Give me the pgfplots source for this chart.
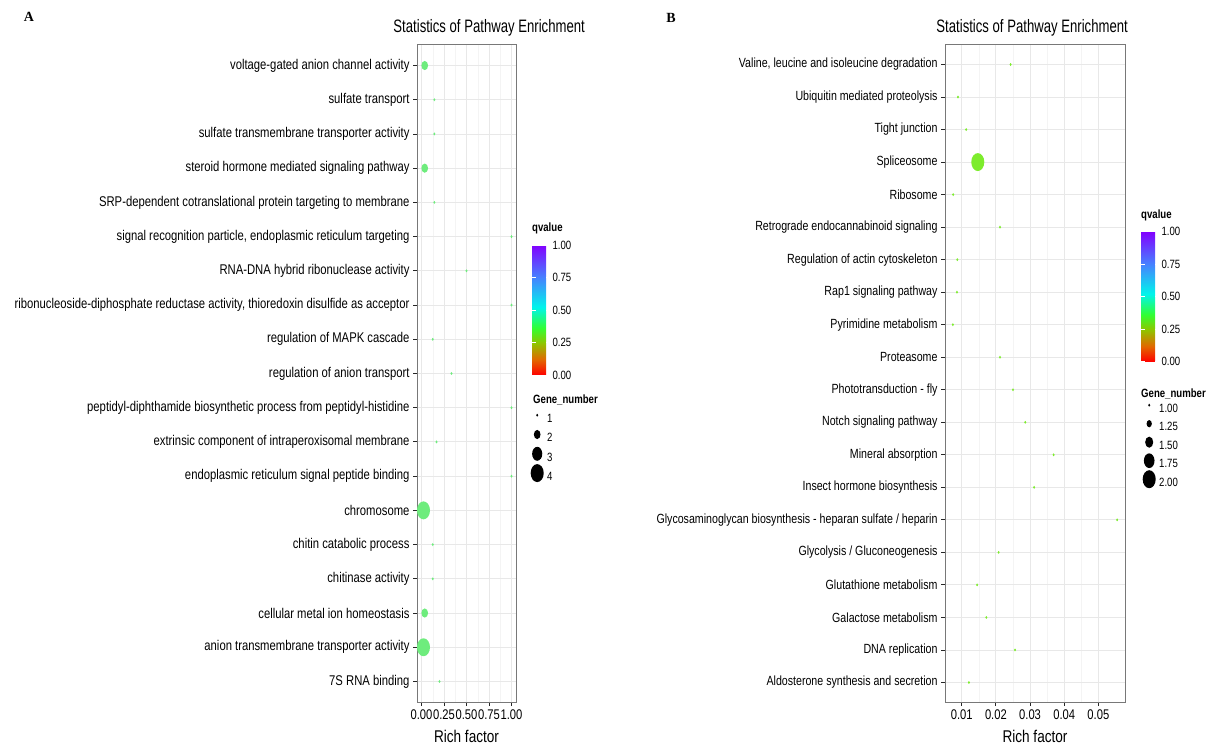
\documentclass[border=0pt]{standalone}
\usepackage{pgfplots}
\pgfplotsset{compat=1.18}
\usepackage{fontspec}
\setmainfont{Liberation Sans}[FakeStretch=0.8]
\newfontfamily\titlefont{Liberation Sans}[FakeStretch=0.73]
\newfontfamily\abfont{Liberation Serif}

\definecolor{ptA}{RGB}{110,236,125}
\definecolor{ptB}{RGB}{125,236,45}
\definecolor{gridmaj}{RGB}{232,232,232}
\definecolor{gridmin}{RGB}{244,244,244}
\definecolor{frame}{RGB}{120,120,120}

\pgfdeclareplotmark{oval}{%
  \pgfpathellipse{\pgfpointorigin}{\pgfqpoint{\pgfplotmarksize}{0pt}}{\pgfqpoint{0pt}{1.38\pgfplotmarksize}}%
  \pgfusepathqfill}

\pgfplotsset{
  colormap={qv}{rgb255(0pt)=(255,0,0); rgb255(12pt)=(225,105,0); rgb255(25pt)=(140,200,0); rgb255(36pt)=(50,255,50); rgb255(52pt)=(0,245,235); rgb255(75pt)=(70,130,255); rgb255(100pt)=(130,0,255)},
  ggp/.style={
    scale only axis,
    axis line style={frame, line width=1pt},
    tick align=outside, tick pos=left,
    major tick length=4pt, minor tick length=0pt,
    tick style={black!85, line width=0.9pt},
    xmajorgrids, ymajorgrids, xminorgrids,
    major grid style={gridmaj, line width=0.9pt},
    minor grid style={gridmin, line width=0.5pt},
    /pgf/number format/assume math mode=true,
    xticklabel style={font=\fontsize{14}{14}\selectfont, /pgf/number format/.cd, fixed, fixed zerofill, precision=2},
    yticklabel style={font=\fontsize{14.1}{14}\selectfont},
    xlabel={Rich factor},
    xlabel style={font=\fontsize{17}{17}\selectfont, at={(axis description cs:0.5,0)}, anchor=center, yshift=-34pt},
    colormap name=qv, point meta min=0, point meta max=1,
    colorbar,
    colorbar style={
      scale only axis, width=17pt, height=130pt,
      at={(parent axis.north east)}, anchor=north west,
      ytick={0,0.25,0.5,0.75,1}, ytick pos=both, yticklabel pos=right,
      tick align=inside, major tick length=3.5pt,
      tick style={white, line width=0.9pt},
      axis line style={draw=none},
      /pgf/number format/assume math mode=true,
      yticklabel style={font=\fontsize{12}{12}\selectfont, /pgf/number format/.cd, fixed, fixed zerofill, precision=2},
      title={\textbf{qvalue}},
      title style={at={(0,1)}, anchor=base west, yshift=7pt, inner sep=0pt, font=\fontsize{12}{12}\selectfont},
    },
    legend style={draw=none, fill=none, anchor=north west, inner sep=0pt,
      legend cell align=left, column sep=2pt,
      nodes={inner sep=0pt, text height=9pt, text depth=3pt, font=\fontsize{12}{12}\selectfont}},
  },
  szleg/.style={mark=oval, black,
    legend image code/.code={\path[draw=none, fill=none] (0pt,0pt) rectangle (16pt,1pt); \draw[##1,overlay] plot coordinates {(8pt,4.3pt)};}},
}

\pgfplotstableread{
x      y  n q
0.200  1  1 0.40
0.022  2  4 0.40
0.036  3  2 0.40
0.125  4  1 0.40
0.125  5  1 0.40
0.022  6  4 0.40
1.000  7  1 0.40
0.167  8  1 0.40
1.000  9  1 0.40
0.333 10  1 0.40
0.125 11  1 0.40
1.000 12  1 0.40
0.500 13  1 0.40
1.000 14  1 0.40
0.143 15  1 0.40
0.036 16  2 0.40
0.143 17  1 0.40
0.143 18  1 0.40
0.036 19  2 0.40
}\tabA

\pgfplotstableread{
x       y  n q
0.0121  1  1 0.30
0.0256  2  1 0.30
0.0172  3  1 0.30
0.0145  4  1 0.30
0.0208  5  1 0.30
0.0555  6  1 0.30
0.0312  7  1 0.30
0.0369  8  1 0.30
0.0286  9  1 0.30
0.0250 10  1 0.30
0.0212 11  1 0.30
0.0074 12  1 0.30
0.0086 13  1 0.30
0.0087 14  1 0.30
0.0212 15  1 0.30
0.0075 16  1 0.30
0.0147 17  2 0.30
0.0113 18  1 0.30
0.0089 19  1 0.30
0.0243 20  1 0.30
}\tabB

\begin{document}
\begin{tikzpicture}[x=1pt,y=1pt]
\useasboundingbox (0,0) rectangle (1214,747);

\node[font=\abfont\bfseries\fontsize{14}{14}\selectfont] at (29,730) {A};
\node[font=\abfont\bfseries\fontsize{14}{14}\selectfont] at (671,729) {B};
\node[anchor=base east, inner sep=0pt, font=\titlefont\fontsize{18}{18}\selectfont] at (585,714.4) {Statistics of Pathway Enrichment};
\node[anchor=base east, inner sep=0pt, font=\titlefont\fontsize{18}{18}\selectfont] at (1128,714.4) {Statistics of Pathway Enrichment};

% Panel A
\begin{axis}[ggp,
  at={(417pt,45pt)}, anchor=south west, width=99pt, height=657pt,
  xmin=-0.05, xmax=1.05, ymin=0.4, ymax=19.6,
  xtick={0,0.25,0.5,0.75,1}, minor x tick num=1,
  ytick={1,...,19},
  yticklabels={
    7S RNA binding,
    anion transmembrane transporter activity,
    cellular metal ion homeostasis,
    chitinase activity,
    chitin catabolic process,
    chromosome,
    endoplasmic reticulum signal peptide binding,
    extrinsic component of intraperoxisomal membrane,
    peptidyl-diphthamide biosynthetic process from peptidyl-histidine,
    regulation of anion transport,
    regulation of MAPK cascade,
    {ribonucleoside-diphosphate reductase activity, thioredoxin disulfide as acceptor},
    RNA-DNA hybrid ribonuclease activity,
    {signal recognition particle, endoplasmic reticulum targeting},
    SRP-dependent cotranslational protein targeting to membrane,
    steroid hormone mediated signaling pathway,
    sulfate transmembrane transporter activity,
    sulfate transport,
    voltage-gated anion channel activity},
  colorbar style={colorbar shift/.style={xshift=16pt, yshift=-200pt}},
  legend style={at={(1.1313,0.4688)}, row sep=7.3pt},
]
\addplot[forget plot, scatter, only marks, mark=oval,
  point meta=\thisrow{q},
  scatter/use mapped color={draw=ptA, fill=ptA},
  visualization depends on={\thisrow{n} \as \gn},
  scatter/@pre marker code/.append style={/tikz/mark size={1.085*(1+5*(sqrt(\gn)-1))}},
] table[x=x, y=y] {\tabA};
\addlegendimage{empty legend}
\addlegendentry{\hspace*{-14pt}\textbf{Gene\_number}}
\addlegendimage{szleg, mark size=1.085pt}
\addlegendentry{1}
\addlegendimage{szleg, mark size=3.33pt}
\addlegendentry{2}
\addlegendimage{szleg, mark size=5.06pt}
\addlegendentry{3}
\addlegendimage{szleg, mark size=6.51pt}
\addlegendentry{4}
\end{axis}

% Panel B
\begin{axis}[ggp,
  at={(945pt,45pt)}, anchor=south west, width=180pt, height=657pt,
  xmin=0.0051, xmax=0.0578, ymin=0.4, ymax=20.6,
  xtick={0.01,0.02,0.03,0.04,0.05}, minor x tick num=1,
  scaled x ticks=false,
  yticklabel style={font=\fontsize{13.3}{14}\selectfont},
  ytick={1,...,20},
  yticklabels={
    Aldosterone synthesis and secretion,
    DNA replication,
    Galactose metabolism,
    Glutathione metabolism,
    Glycolysis / Gluconeogenesis,
    Glycosaminoglycan biosynthesis - heparan sulfate / heparin,
    Insect hormone biosynthesis,
    Mineral absorption,
    Notch signaling pathway,
    Phototransduction - fly,
    Proteasome,
    Pyrimidine metabolism,
    Rap1 signaling pathway,
    Regulation of actin cytoskeleton,
    Retrograde endocannabinoid signaling,
    Ribosome,
    Spliceosome,
    Tight junction,
    Ubiquitin mediated proteolysis,
    {Valine, leucine and isoleucine degradation}},
  colorbar style={colorbar shift/.style={xshift=16pt, yshift=-186.7pt}},
  legend style={at={(1.0889,0.4828)}, row sep=6.5pt},
]
\addplot[forget plot, scatter, only marks, mark=oval,
  point meta=\thisrow{q},
  scatter/use mapped color={draw=ptB, fill=ptB},
  visualization depends on={\thisrow{n} \as \gn},
  scatter/@pre marker code/.append style={/tikz/mark size={1.085*(1+5*(sqrt(\gn)-1)/0.41421)}},
] table[x=x, y=y] {\tabB};
\addlegendimage{empty legend}
\addlegendentry{\hspace*{-18pt}\raisebox{-3.5pt}{\textbf{Gene\_number}}}
\addlegendimage{szleg, mark size=1.085pt}
\addlegendentry{1.00}
\addlegendimage{szleg, mark size=2.63pt}
\addlegendentry{1.25}
\addlegendimage{szleg, mark size=4.03pt}
\addlegendentry{1.50}
\addlegendimage{szleg, mark size=5.32pt}
\addlegendentry{1.75}
\addlegendimage{szleg, mark size=6.51pt}
\addlegendentry{2.00}
\end{axis}
\end{tikzpicture}
\end{document}
